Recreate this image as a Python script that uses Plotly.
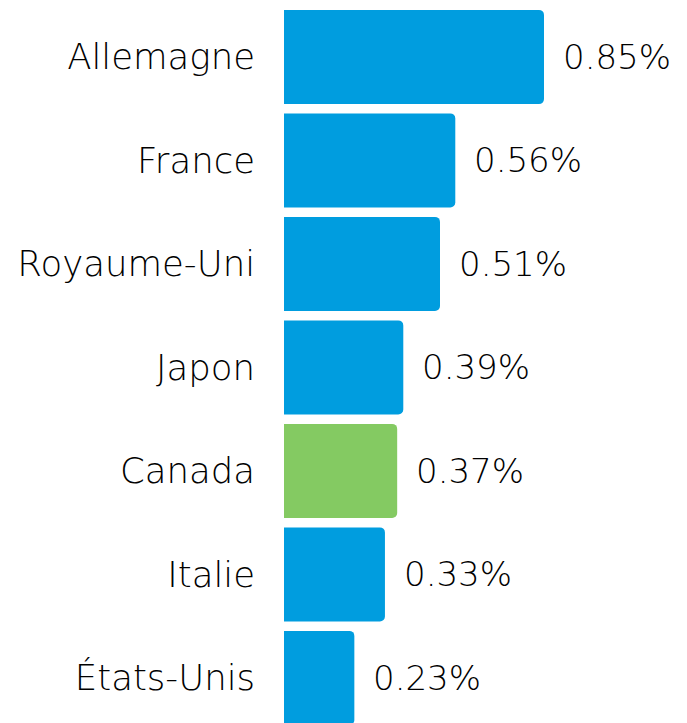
import plotly.graph_objects as go

countries = ["Allemagne", "France", "Royaume-Uni", "Japon", "Canada", "Italie", "États-Unis"]
values = [0.85, 0.56, 0.51, 0.39, 0.37, 0.33, 0.23]
labels = ["0.85%", "0.56%", "0.51%", "0.39%", "0.37%", "0.33%", "0.23%"]
blue = "#009DDF"
green = "#84CA62"
colors = [green if c == "Canada" else blue for c in countries]

FONT = "DejaVu Sans"

fig = go.Figure(go.Bar(
    x=values, y=countries, orientation="h",
    marker=dict(color=colors, cornerradius=5, line=dict(width=0)),
    width=0.91,
    hoverinfo="skip",
))

for c, v, t in zip(countries, values, labels):
    fig.add_annotation(x=v, y=c, text=t, showarrow=False, xanchor="left",
                       xshift=17, font=dict(family=FONT, size=34, color="#000000", weight=200))

fig.update_layout(
    width=679, height=715,
    margin=dict(l=276, r=0, t=0, b=0),
    paper_bgcolor="white", plot_bgcolor="white",
    showlegend=False,
    xaxis=dict(range=[0, 1.3175], visible=False, fixedrange=True),
    yaxis=dict(
        type="category", categoryorder="array", categoryarray=countries,
        range=[6.435, -0.4734], showgrid=False, zeroline=False, showline=False,
        ticks="", ticklabelstandoff=28,
        tickfont=dict(family=FONT, size=35.5, color="#000000", weight=200),
    ),
)

fig.write_html("out.html")
